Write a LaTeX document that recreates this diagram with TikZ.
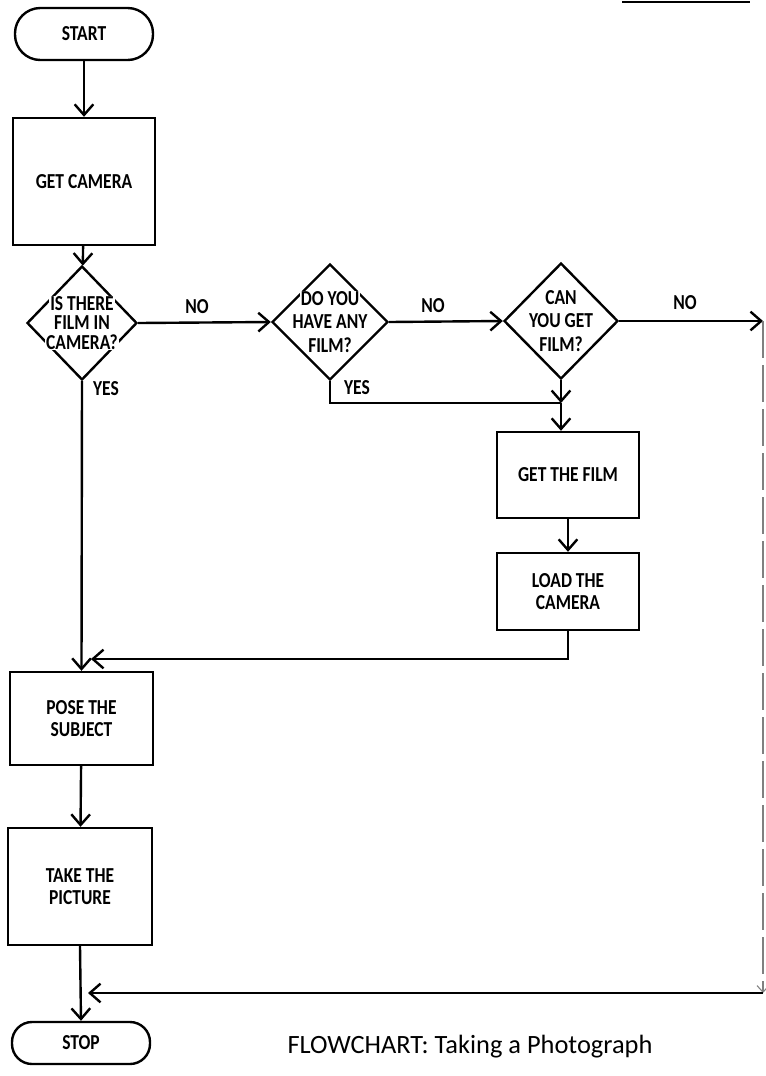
\documentclass[tikz,border=0pt]{standalone}
\usepackage{fontspec}
\setmainfont{Carlito}
\newfontfamily\lblfont{Carlito}[FakeStretch=0.82]
\usetikzlibrary{shapes.geometric,arrows.meta}
\newcommand\wl[1]{{\setlength{\fboxsep}{0.6pt}\colorbox{white}{#1}}}
\begin{document}
\begin{tikzpicture}[x=0.75pt,y=-0.75pt,
  line width=1.8pt,
  arr/.style={-{Straight Barb[length=8pt,width=14pt]}},
  txt/.style={font=\lblfont\fontsize{16}{17}\selectfont\bfseries, align=center},
  box/.style={draw, rectangle, txt, inner sep=0pt},
  term/.style={draw, rectangle, txt, inner sep=0pt},
  dec/.style={draw, diamond, inner sep=0pt, minimum width=82.5pt, minimum height=85.5pt},
  dtext/.style={txt, inner sep=0pt},
  lab/.style={font=\lblfont\fontsize{16}{17}\selectfont\bfseries, inner sep=0pt}]
\useasboundingbox (0,0) rectangle (765,1076);
\draw[line width=1pt] (622,2) -- (750,2);

\node[term, minimum width=103.5pt, minimum height=39pt, rounded corners=19pt] (start) at (84,34) {START};
\node[box, minimum width=106.5pt, minimum height=95.25pt] (gc) at (84,181.5) {GET CAMERA};

\node[dec] (d1) at (82,323) {};
\node[dtext, font=\lblfont\fontsize{16}{14.5}\selectfont\bfseries] at (d1.center) {\wl{IS THERE}\\\wl{FILM IN}\\\wl{CAMERA?}};
\node[dec, minimum width=87pt, minimum height=87pt] (d2) at (330,322) {};
\node[dtext, font=\lblfont\fontsize{16}{17.5}\selectfont\bfseries] at (d2.center) {\wl{DO YOU}\\\wl{HAVE ANY}\\\wl{FILM?}};
\node[dec, minimum width=85.5pt, minimum height=87pt] (d3) at (561,321) {};
\node[dtext, font=\lblfont\fontsize{16}{17.5}\selectfont\bfseries] at (d3.center) {\wl{CAN}\\\wl{YOU GET}\\\wl{FILM?}};

\node[box, minimum width=106.5pt, minimum height=64.5pt] (film) at (568,475) {GET THE FILM};
\node[box, minimum width=106.5pt, minimum height=57.75pt] (load) at (568,591.5) {LOAD THE\\CAMERA};
\node[box, minimum width=107.25pt, minimum height=69.75pt] (pose) at (81.5,718.5) {POSE THE\\SUBJECT};
\node[box, minimum width=108pt, minimum height=87.75pt] (take) at (80,886.5) {TAKE THE\\PICTURE};
\node[term, minimum width=103.5pt, minimum height=31.5pt, rounded corners=15pt] (stop) at (81,1043) {STOP};

\node[font=\fontsize{19.8}{21}\selectfont, anchor=center] (cap) at (470,1047) {FLOWCHART: Taking a Photograph};

\node[lab] (no1) at (197,307) {NO};
\node[lab] (no2) at (433,306) {NO};
\node[lab] (no3) at (685,303) {NO};
\node[lab] (yes1) at (106,389) {YES};
\node[lab] (yes2) at (357,388) {YES};

\coordinate (j1) at (561,403);
\coordinate (j2) at (91,659);
\coordinate (r1) at (763,321);
\coordinate (r2) at (763,993);
\coordinate (j3) at (88,993);

\draw[arr] (start) -- (gc);
\draw[arr] (gc) -- (d1);
\draw[arr] (d1.east) -- (d2.west);
\draw[arr] (d2.east) -- (d3.west);
\draw[arr] (d3.east) -- (r1);
\draw[arr] (d1.south) -- (pose.north);
\draw (d2.south) |- (j1);
\draw[arr] (d3.south) -- (j1);
\draw[arr] (j1) -- (film.north -| j1);
\draw[arr] (film) -- (load);
\draw[arr] (load.south) |- (j2);
\draw[arr] (pose) -- (take);
\draw[arr] (take.south) -- (stop.north);
\draw[gray, line width=0.8pt, dash pattern=on 28pt off 5pt, -{Straight Barb[length=5pt,width=9pt]}] (r1) -- (r2);
\draw[arr] (r2) -- (j3);
\end{tikzpicture}
\end{document}
